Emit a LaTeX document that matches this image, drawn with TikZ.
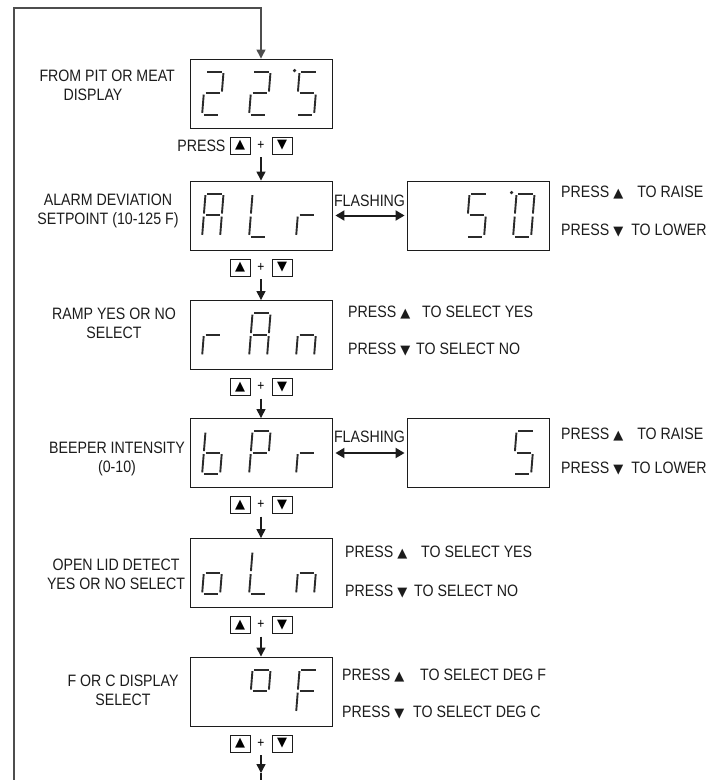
\documentclass[tikz,border=0pt]{standalone}
\usepackage{fontspec}
\setmainfont{Liberation Sans}[FakeStretch=0.86]
\newfontfamily\symfont{DejaVu Sans}
\usepackage{tikz}
\usetikzlibrary{arrows.meta,positioning,calc}
\definecolor{ink}    {HTML}{1C1C1C}
\definecolor{inkgray}{HTML}{4E4E4E}
\definecolor{segink} {HTML}{2B2B2B}
\newcommand{\upkey}{{\symfont\fontsize{13}{13}\selectfont ▲}}
\newcommand{\dnkey}{{\symfont\fontsize{13}{13}\selectfont ▼}}
% seven segment strokes, digit frame 18 x 43
\newcommand{\segA}{(1.8,0) -- (16.2,0)}
\newcommand{\segB}{(18,1.6) -- (18,20)}
\newcommand{\segC}{(18,23) -- (18,41.4)}
\newcommand{\segD}{(1.8,43) -- (16.2,43)}
\newcommand{\segE}{(0,23) -- (0,41.4)}
\newcommand{\segF}{(0,1.6) -- (0,20)}
\newcommand{\segG}{(1.8,21.5) -- (16.2,21.5)}
\newcommand{\segdigit}[3]{%
  \begin{scope}[shift={($(#1.north west)+({-31+47*#2},13)$)},xslant=0.08]
    \foreach \s in {#3}{\edef\segpath{\csname seg\s\endcsname}\draw[segline] \segpath;}
  \end{scope}}
\newcommand{\segdot}[1]{\fill[segink] ($(#1.north west)+(105,12)$) circle (1.8pt);}
\tikzset{
  dispbox/.style  ={draw=ink, line width=0.9pt, minimum width=142pt,
                    minimum height=69pt, inner sep=0pt},
  keybox/.style   ={draw=ink, line width=0.7pt, minimum width=20pt,
                    minimum height=17pt, inner sep=0pt},
  keyplus/.style  ={minimum height=17pt, inner sep=0pt, font=\fontsize{14}{14}\selectfont},
  labeltext/.style={align=center, font=\fontsize{16.5}{19}\selectfont, text=ink},
  presstext/.style={anchor=west, font=\fontsize{16.5}{19}\selectfont, text=ink, inner sep=0pt},
  flashtext/.style={font=\fontsize{16.5}{19}\selectfont, text=ink, inner sep=0pt},
  segline/.style  ={line width=1.9pt, draw=segink},
  flowarr/.style  ={-{Triangle[length=9pt,width=9pt]}, line width=1.4pt, draw=ink, shorten <=3pt},
  flasharr/.style ={{Triangle[length=9pt,width=10pt]}-{Triangle[length=9pt,width=10pt]},
                    line width=2pt, draw=ink, shorten <=3pt, shorten >=2pt},
  loopline/.style ={-{Triangle[length=9pt,width=9pt]}, line width=1.3pt, draw=inkgray},
}

\begin{document}
\begin{tikzpicture}[x=1pt,y=-1pt]
  \useasboundingbox (0,0) rectangle (706,780);

  % displays
  \node[dispbox] (pit)   at (261,93.5)  {};
  \node[dispbox] (alr)   at (261,215.5) {};
  \node[dispbox] (fifty) at (478,215.5) {};
  \node[dispbox] (ramp)  at (261,335)   {};
  \node[dispbox] (beep)  at (261,453)   {};
  \node[dispbox] (five)  at (478,453)   {};
  \node[dispbox] (lid)   at (261,573)   {};
  \node[dispbox] (unit)  at (261,691.5) {};

  % digits
  \segdigit{pit}{1}{A,B,G,E,D}
  \segdigit{pit}{2}{A,B,G,E,D}
  \segdigit{pit}{3}{A,F,G,C,D}
  \segdot{pit}
  \segdigit{alr}{1}{A,B,C,E,F,G}
  \segdigit{alr}{2}{D,E,F}
  \segdigit{alr}{3}{E,G}
  \segdigit{fifty}{2}{A,F,G,C,D}
  \segdigit{fifty}{3}{A,B,C,D,E,F}
  \segdot{fifty}
  \segdigit{ramp}{1}{E,G}
  \segdigit{ramp}{2}{A,B,C,E,F,G}
  \segdigit{ramp}{3}{C,E,G}
  \segdigit{beep}{1}{C,D,E,F,G}
  \segdigit{beep}{2}{A,B,E,F,G}
  \segdigit{beep}{3}{E,G}
  \segdigit{five}{3}{A,F,G,C,D}
  \segdigit{lid}{1}{C,D,E,G}
  \segdigit{lid}{2}{D,E,F}
  \segdigit{lid}{3}{C,E,G}
  \segdigit{unit}{2}{A,B,F,G}
  \segdigit{unit}{3}{A,E,F,G}

  % labels
  \node[labeltext,align=left,anchor=west] (pitlbl) at (36,85.5) {FROM PIT OR MEAT\\\hspace*{24pt}DISPLAY};
  \node[labeltext] (alrlbl)  at (108,211)   {ALARM DEVIATION\\SETPOINT (10-125 F)};
  \node[labeltext] (ramplbl) at (114,323)   {RAMP YES OR NO\\SELECT};
  \node[labeltext] (beeplbl) at (117,458.5) {BEEPER INTENSITY\\(0-10)};
  \node[labeltext] (lidlbl)  at (116,574.5) {OPEN LID DETECT\\YES OR NO SELECT};
  \node[labeltext] (unitlbl) at (123,690)   {F OR C DISPLAY\\SELECT};

  % keys
  \foreach \b in {pit,alr,ramp,beep,lid,unit}{
    \node[keybox]  (\b-up)   at ($(\b.south)+(-21,17)$) {\upkey};
    \node[keyplus] (\b-plus) at ($(\b.south)+(0,17)$)   {+};
    \node[keybox]  (\b-dn)   at ($(\b.south)+(21,17)$)  {\dnkey};
  }
  \node[flashtext,left=4pt of pit-up] (presskeys) {PRESS};

  % arrows down
  \foreach \a/\b in {pit/alr,alr/ramp,ramp/beep,beep/lid,lid/unit}
    \draw[flowarr] (\a-plus.south) -- (\b.north);
  \coordinate (nexttip)  at (261,773);
  \coordinate (nextdisp) at (261,781);
  \draw[flowarr] (unit-plus.south) -- (nexttip);
  \draw[line width=1.4pt,draw=ink] (nexttip) -- (nextdisp);

  % loop back
  \coordinate (loopfoot) at (14,781);
  \coordinate (loophead) at (14,8);
  \draw[loopline] (loopfoot) -- (loophead) -| (pit.north);

  % flashing
  \draw[flasharr] (alr.east) -- (fifty.west);
  \node[flashtext] (flash1) at ($(alr.east)!0.5!(fifty.west)+(0,-15)$) {FLASHING};
  \draw[flasharr] (beep.east) -- (five.west);
  \node[flashtext] (flash2) at ($(beep.east)!0.5!(five.west)+(0,-16)$) {FLASHING};

  % instructions
  \node[presstext] (fiftyup) at (561,193) {PRESS \upkey\hspace{14pt}TO RAISE};
  \node[presstext] (fiftydn) at (561,231) {PRESS \dnkey\hspace{8pt}TO LOWER};
  \node[presstext] (rampup)  at (348,313) {PRESS \upkey\hspace{12pt}TO SELECT YES};
  \node[presstext] (rampdn)  at (348,350) {PRESS \dnkey\hspace{6pt}TO SELECT NO};
  \node[presstext] (fiveup)  at (561,435) {PRESS \upkey\hspace{14pt}TO RAISE};
  \node[presstext] (fivedn)  at (561,469) {PRESS \dnkey\hspace{8pt}TO LOWER};
  \node[presstext] (lidup)   at (345,553) {PRESS \upkey\hspace{14pt}TO SELECT YES};
  \node[presstext] (liddn)   at (345,592) {PRESS \dnkey\hspace{7pt}TO SELECT NO};
  \node[presstext] (unitup)  at (342,676) {PRESS \upkey\hspace{16pt}TO SELECT DEG F};
  \node[presstext] (unitdn)  at (342,713) {PRESS \dnkey\hspace{9pt}TO SELECT DEG C};
\end{tikzpicture}
\end{document}
